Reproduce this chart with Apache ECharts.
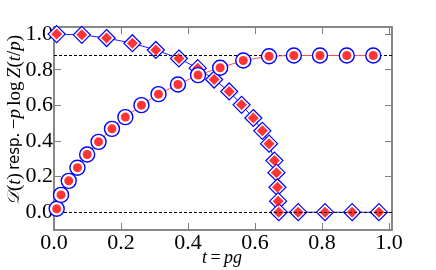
<!DOCTYPE html>
<html>
<head>
<meta charset="utf-8">
<script src="https://cdn.jsdelivr.net/npm/echarts@6/dist/echarts.min.js"></script>
<style>
html,body{margin:0;padding:0;background:#fff;}
#chart{width:436px;height:270px;}
</style>
</head>
<body>
<div id="chart"></div>
<script>
// Circle series: D(t)
const circleX = [0.008, 0.021, 0.044, 0.070, 0.099, 0.133, 0.173, 0.213, 0.261, 0.312, 0.370, 0.430, 0.496, 0.565, 0.642, 0.716, 0.794, 0.874, 0.953];
const circleY = [0.019, 0.097, 0.176, 0.250, 0.324, 0.395, 0.468, 0.534, 0.601, 0.663, 0.717, 0.770, 0.811, 0.852, 0.876, 0.880, 0.880, 0.880, 0.880];
// Diamond series: -p log Z(t/p)
const diamondX = [0.008, 0.083, 0.157, 0.234, 0.304, 0.373, 0.429, 0.478, 0.523, 0.560, 0.595, 0.622, 0.642, 0.658, 0.664, 0.667, 0.669, 0.671, 0.729, 0.809, 0.890, 0.970];
const diamondY = [1.000, 0.996, 0.978, 0.949, 0.911, 0.863, 0.809, 0.745, 0.678, 0.603, 0.529, 0.457, 0.385, 0.290, 0.222, 0.140, 0.062, 0.000, 0.000, 0.000, 0.000, 0.000];
// Dashed reference levels
const refLevels = [0.0, 0.88];
const xTicks = [0.0, 0.2, 0.4, 0.6, 0.8, 1.0];
const yTicks = [0.0, 0.2, 0.4, 0.6, 0.8, 1.0];

const pairs = (xs, ys) => xs.map((x, i) => [x, ys[i]]);
const serif = 'Liberation Serif';
const grey = '#808080';

const chart = echarts.init(document.getElementById('chart'), null, {renderer: 'canvas'});
const mkTick = vals => ({show: true, inside: true, length: 7, customValues: vals, lineStyle: {color: grey, width: 1}});
const line = {show: true, onZero: false, lineStyle: {color: grey, width: 1.5}};
const lbl = (vals, margin) => ({show: true, customValues: vals, formatter: v => Number(v).toFixed(1),
  color: '#000', fontFamily: serif, fontSize: 22, margin: margin});
chart.setOption({
  animation: false,
  backgroundColor: '#fff',
  grid: {left: 54, right: 44, top: 27, bottom: 40, show: true, borderColor: grey, borderWidth: 1.5, backgroundColor: 'transparent'},
  xAxis: [
    {type: 'value', min: 0, max: 1.009, position: 'bottom', axisLine: line,
     axisTick: mkTick(xTicks), splitLine: {show: false}, axisLabel: lbl(xTicks, 2)},
    {type: 'value', min: 0, max: 1.009, position: 'top', axisLine: line,
     axisTick: mkTick(xTicks), splitLine: {show: false}, axisLabel: {show: false}}
  ],
  yAxis: [
    {type: 'value', min: -0.1, max: 1.04, position: 'left', axisLine: line,
     axisTick: mkTick(yTicks), splitLine: {show: false}, axisLabel: lbl(yTicks, 1)},
    {type: 'value', min: -0.1, max: 1.04, position: 'right', axisLine: line,
     axisTick: mkTick(yTicks), splitLine: {show: false}, axisLabel: {show: false}}
  ],
  series: [
    {type: 'line', name: 'refs', data: [], xAxisIndex: 0, yAxisIndex: 0, silent: true,
     markLine: {symbol: 'none', silent: true, label: {show: false},
       lineStyle: {color: '#000', type: [3, 2], width: 1},
       data: refLevels.map(v => ({yAxis: v}))}},
    {type: 'line', name: 'diamondOuter', data: pairs(diamondX, diamondY),
     lineStyle: {color: '#2020ff', width: 1}, symbol: 'diamond', symbolSize: 17,
     itemStyle: {color: '#fff', borderColor: '#0000ff', borderWidth: 1.2}, z: 3},
    {type: 'scatter', name: 'diamondInner', data: pairs(diamondX, diamondY),
     symbol: 'diamond', symbolSize: 11, itemStyle: {color: '#ff0000'}, z: 4},
    {type: 'line', name: 'circleOuter', data: pairs(circleX, circleY),
     lineStyle: {color: '#ff5050', width: 1}, symbol: 'circle', symbolSize: 15,
     itemStyle: {color: '#fff', borderColor: '#0000ff', borderWidth: 1.4}, z: 5},
    {type: 'scatter', name: 'circleInner', data: pairs(circleX, circleY),
     symbol: 'circle', symbolSize: 9, itemStyle: {color: '#ff0000'}, z: 6}
  ],
  graphic: [
    {type: 'text', x: 15, y: 120, rotation: Math.PI / 2,
     style: {
       text: '{s|𝒟}{r|(}{i|t}{r|)} {sans|resp.} {r|−}{i|p} {r|log} {i|Z}{r|(}{i|t}{r|/}{i|p}{r|)}',
       align: 'center', verticalAlign: 'middle', fill: '#000',
       rich: {
         s: {fontFamily: 'DejaVu Serif', fontStyle: 'italic', fontSize: 17, fill: '#000'},
         r: {fontFamily: serif, fontSize: 19, fill: '#000'},
         i: {fontFamily: serif, fontStyle: 'italic', fontSize: 19, fill: '#000'},
         sans: {fontFamily: 'DejaVu Sans', fontSize: 15, fill: '#000'}
       }
     }},
    {type: 'text', x: 222, y: 258,
     style: {
       text: '{i|t} {r|=} {i|pg}',
       align: 'center', verticalAlign: 'middle', fill: '#000',
       rich: {
         r: {fontFamily: serif, fontSize: 18, fill: '#000'},
         i: {fontFamily: serif, fontStyle: 'italic', fontSize: 18, fill: '#000'}
       }
     }}
  ]
});
</script>
</body>
</html>
